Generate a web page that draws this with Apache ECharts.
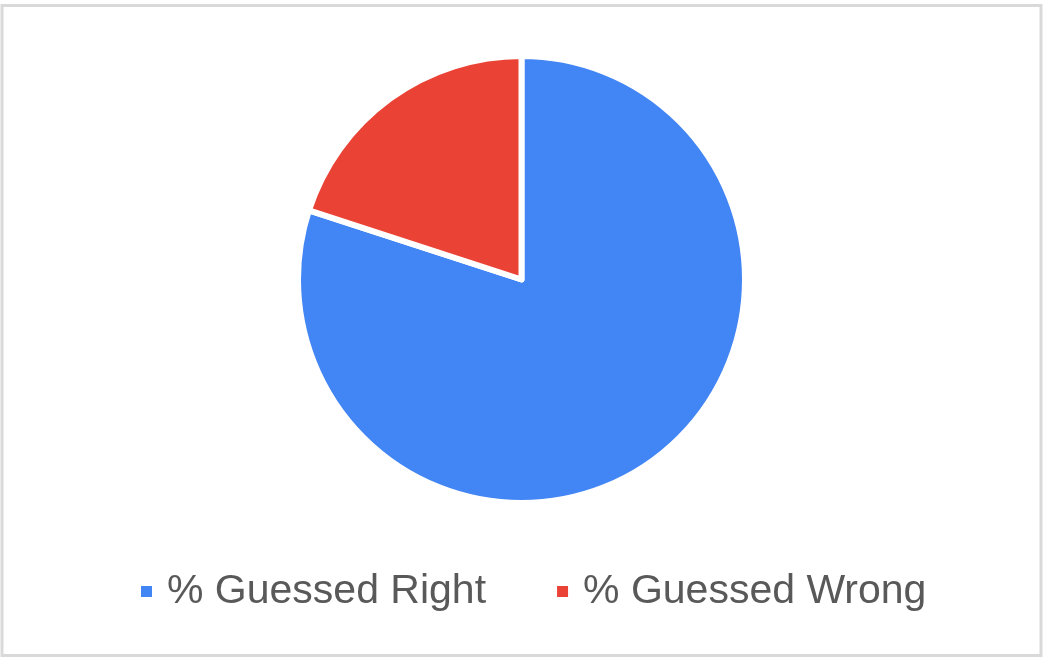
<!DOCTYPE html>
<html>
<head>
<meta charset="utf-8">
<script src="https://cdn.jsdelivr.net/npm/echarts@6/dist/echarts.min.js"></script>
<style>
html,body{margin:0;padding:0;background:#fff;}
#chart{width:1045px;height:660px;}
</style>
</head>
<body>
<div id="chart"></div>
<script>
const categories = ['% Guessed Right', '% Guessed Wrong'];
const values = [80, 20];
const colors = ['#4285F4', '#EA4335'];

const chart = echarts.init(document.getElementById('chart'), null, {renderer: 'canvas'});
chart.setOption({
  animation: false,
  backgroundColor: '#ffffff',
  color: colors,
  graphic: [{
    type: 'rect',
    shape: {x: 2, y: 5.5, width: 1039, height: 650},
    style: {fill: 'none', stroke: '#d9d9d9', lineWidth: 3},
    silent: true,
    z: 100
  }],
  legend: {
    left: 139,
    top: 571,
    padding: 0,
    icon: 'rect',
    itemWidth: 13,
    itemHeight: 13,
    itemGap: 69,
    textStyle: {
      fontFamily: 'Liberation Sans, Arial, sans-serif',
      fontSize: 41,
      color: '#595959',
      padding: [0, 0, 0, 9]
    },
    data: categories
  },
  series: [{
    type: 'pie',
    center: [521.5, 279.5],
    radius: 223.5,
    startAngle: 90,
    clockwise: true,
    label: {show: false},
    labelLine: {show: false},
    itemStyle: {borderColor: '#ffffff', borderWidth: 6},
    emphasis: {disabled: true},
    data: categories.map((c, i) => ({name: c, value: values[i]}))
  }]
});
</script>
</body>
</html>
